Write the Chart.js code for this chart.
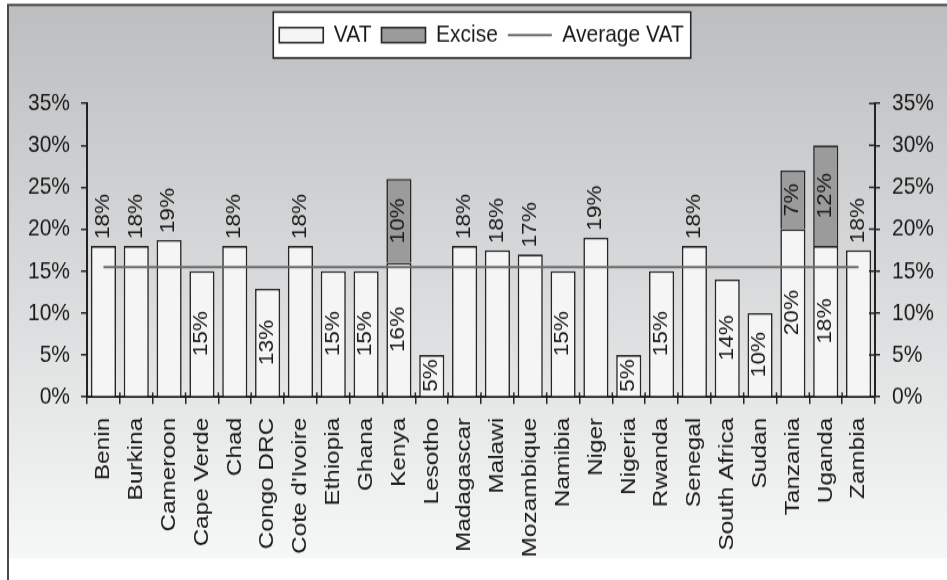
<!DOCTYPE html>
<html>
<head>
<meta charset="utf-8">
<title>VAT and excise rates</title>
<script src="https://cdn.jsdelivr.net/npm/chart.js@4/dist/chart.umd.min.js"></script>
<style>
  html { overflow: hidden; }
  html, body { margin: 0; padding: 0; background: #fff; }
  body { height: 580px; }
  /* the chart is drawn on a 947x500 canvas and stretched vertically to fill 580px */
  #wrap { width: 947px; height: 500px; transform: scaleY(1.16); transform-origin: 0 0; }
</style>
</head>
<body>
<div id="wrap"><canvas id="c" width="947" height="500"></canvas></div>
<script>
// ---- data ----
const countries = ['Benin', 'Burkina', 'Cameroon', 'Cape Verde', 'Chad', 'Congo DRC', "Cote d'Ivoire",
  'Ethiopia', 'Ghana', 'Kenya', 'Lesotho', 'Madagascar', 'Malawi', 'Mozambique', 'Namibia', 'Niger',
  'Nigeria', 'Rwanda', 'Senegal', 'South Africa', 'Sudan', 'Tanzania', 'Uganda', 'Zambia'];

const vatRates = [18, 18, 18.7, 15, 18, 12.9, 18, 15, 15, 16, 5, 18, 17.5, 17, 15, 19, 5, 15, 18, 14, 10, 20, 18, 17.5];

const exciseRates = [null, null, null, null, null, null, null, null, null, 10, null, null,
  null, null, null, null, null, null, null, null, null, 7, 12, null];

const averageVat = [15.5, 15.5, 15.5, 15.5, 15.5, 15.5, 15.5, 15.5, 15.5, 15.5, 15.5, 15.5,
  15.5, 15.5, 15.5, 15.5, 15.5, 15.5, 15.5, 15.5, 15.5, 15.5, 15.5, 15.5];

const axisMax = 35;
const axisStep = 5;

// ---- look ----
const FONT = "'Liberation Sans', Arial, Helvetica, sans-serif";
const INK = '#1a1a1a';
const AXIS = '#222222';

Chart.defaults.font.family = FONT;
Chart.defaults.color = INK;

// grey-to-white backdrop, frame lines and the boxed legend
const backdrop = {
  id: 'backdrop',
  beforeDraw(chart) {
    const { ctx, width, height } = chart;
    ctx.save();
    ctx.fillStyle = '#ffffff';
    ctx.fillRect(0, 0, width, height);
    const g = ctx.createLinearGradient(0, 5, 0, 481);
    g.addColorStop(0, '#bdbec0');
    g.addColorStop(0.5, '#d9dadb');
    g.addColorStop(1, '#f6f7f7');
    ctx.fillStyle = g;
    ctx.fillRect(9, 5, width - 9, 476);

    ctx.strokeStyle = '#4a4a4a';
    ctx.lineWidth = 2;
    ctx.beginPath();
    ctx.moveTo(8, height);
    ctx.lineTo(8, 4.3);
    ctx.lineTo(width, 4.3);
    ctx.stroke();

    const boxes = chart.legend && chart.legend.legendHitBoxes;
    if (boxes && boxes.length) {
      let l = Infinity, r = -Infinity, cy = 0;
      boxes.forEach(b => {
        l = Math.min(l, b.left);
        r = Math.max(r, b.left + b.width);
        cy = b.top + b.height / 2;
      });
      const x0 = l - 6, x1 = r + 7, y0 = cy - 19.8, y1 = cy + 19.8;
      ctx.fillStyle = '#ffffff';
      ctx.fillRect(x0, y0, x1 - x0, y1 - y0);
      ctx.strokeStyle = '#2a2a2a';
      ctx.lineWidth = 1.6;
      ctx.strokeRect(x0, y0, x1 - x0, y1 - y0);
    }
    ctx.restore();
  }
};

// short tick marks on the inner side of the right and bottom axes
const innerTicks = {
  id: 'innerTicks',
  afterDraw(chart) {
    const { ctx, scales } = chart;
    const x = scales.x, y2 = scales.y2;
    ctx.save();
    ctx.strokeStyle = AXIS;
    ctx.lineWidth = 1.5;
    ctx.beginPath();
    y2.ticks.forEach((t, i) => {
      const py = y2.getPixelForTick(i);
      ctx.moveTo(y2.left - 6, py);
      ctx.lineTo(y2.left, py);
    });
    for (let i = 0; i <= countries.length; i++) {
      const px = x.getPixelForValue(i - 0.5);
      ctx.moveTo(px, x.top);
      ctx.lineTo(px, x.top - 4);
    }
    ctx.stroke();
    ctx.restore();
  }
};

// rotated percentage labels on the bars
const valueLabels = {
  id: 'valueLabels',
  afterDatasetsDraw(chart) {
    const { ctx } = chart;
    const vatMeta = chart.getDatasetMeta(0);
    const excMeta = chart.getDatasetMeta(1);
    ctx.save();
    ctx.font = '19.5px ' + FONT;
    ctx.fillStyle = INK;
    ctx.textBaseline = 'middle';

    vatMeta.data.forEach((bar, i) => {
      const v = vatRates[i];
      const txt = Math.round(v) + '%';
      ctx.save();
      if (exciseRates[i] != null || v < averageVat[i]) {
        ctx.translate(bar.x, (bar.y + bar.base) / 2);
        ctx.rotate(-Math.PI / 2);
        ctx.textAlign = 'center';
      } else {
        ctx.translate(bar.x, bar.y - 6);
        ctx.rotate(-Math.PI / 2);
        ctx.textAlign = 'left';
      }
      ctx.fillText(txt, 0, 0);
      ctx.restore();
    });

    excMeta.data.forEach((bar, i) => {
      const v = exciseRates[i];
      if (v == null) return;
      ctx.save();
      ctx.translate(bar.x, (bar.y + bar.base) / 2);
      ctx.rotate(-Math.PI / 2);
      ctx.textAlign = 'center';
      ctx.fillText(Math.round(v) + '%', 0, 0);
      ctx.restore();
    });
    ctx.restore();
  }
};

const pct = v => v + '%';

new Chart(document.getElementById('c'), {
  data: {
    labels: countries,
    datasets: [
      {
        type: 'bar',
        label: 'VAT',
        data: vatRates,
        backgroundColor: '#f5f5f5',
        borderColor: '#262626',
        borderWidth: 1.6,
        stack: 'tax',
        pointStyle: 'rect',
        barPercentage: 0.765,
        categoryPercentage: 1,
        order: 1
      },
      {
        type: 'bar',
        label: 'Excise',
        data: exciseRates,
        backgroundColor: '#9b9b9b',
        borderColor: '#262626',
        borderWidth: 1.6,
        stack: 'tax',
        pointStyle: 'rect',
        barPercentage: 0.765,
        categoryPercentage: 1,
        order: 2
      },
      {
        type: 'line',
        label: 'Average VAT',
        data: averageVat,
        yAxisID: 'y2',
        borderColor: '#6b6b6b',
        backgroundColor: '#6b6b6b',
        borderWidth: 2,
        pointRadius: 0,
        pointHoverRadius: 0,
        pointStyle: 'line',
        order: 0
      }
    ]
  },
  options: {
    responsive: false,
    animation: false,
    events: [],
    layout: { padding: { top: 9.7, left: 17, right: 1, bottom: 7.6 } },
    plugins: {
      tooltip: { enabled: false },
      legend: {
        position: 'top',
        weight: 3000,
        labels: {
          usePointStyle: true,
          pointStyleWidth: 44,
          boxHeight: 13,
          padding: 10,
          color: INK,
          font: { size: 21 },
          sort: (a, b) => a.datasetIndex - b.datasetIndex
        }
      },
      title: {
        display: true,
        text: '',
        font: { size: 1 },
        padding: { top: 0, bottom: 37.3 }
      }
    },
    scales: {
      x: {
        stacked: true,
        offset: true,
        ticks: { autoSkip: false, minRotation: 90, maxRotation: 90, padding: 12, color: INK, font: { size: 21 } },
        grid: { drawOnChartArea: false, offset: true, tickLength: 6, color: AXIS, lineWidth: 1.5 },
        border: { color: AXIS, width: 2 }
      },
      y: {
        stacked: true,
        position: 'left',
        min: 0,
        max: axisMax,
        ticks: { stepSize: axisStep, callback: pct, padding: 11, color: INK, font: { size: 21 } },
        grid: { drawOnChartArea: false, tickLength: 6, color: AXIS, lineWidth: 1.5 },
        border: { color: AXIS, width: 2 }
      },
      y2: {
        position: 'right',
        min: 0,
        max: axisMax,
        ticks: { stepSize: axisStep, callback: pct, padding: 12, color: INK, font: { size: 21 } },
        grid: { drawOnChartArea: false, tickLength: 5, color: AXIS, lineWidth: 1.5 },
        border: { color: AXIS, width: 2 }
      }
    }
  },
  plugins: [backdrop, innerTicks, valueLabels]
});
</script>
</body>
</html>
